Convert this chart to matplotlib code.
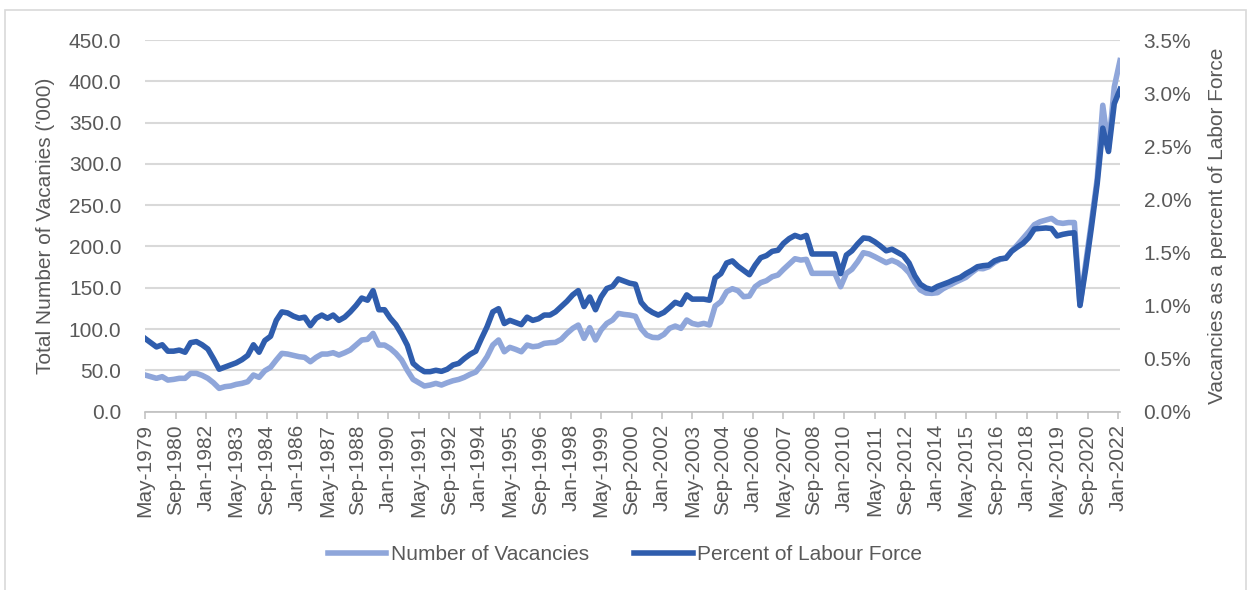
import matplotlib
matplotlib.use("Agg")
import matplotlib.pyplot as plt
from matplotlib.patches import Rectangle
from matplotlib.ticker import FuncFormatter
import pandas as pd

# quarterly observations, May-1979 .. Feb-2022
vacancies = [
    44.4, 42.4, 40.4, 42.4, 38.3, 39.1, 40.4, 40.4, 46.4, 46.4,
    44.0, 40.4, 35.1, 28.2, 30.3, 31.1, 33.1, 34.3, 36.3, 44.4,
    41.6, 49.6, 53.7, 62.6, 70.6, 69.8, 68.2, 66.6, 65.8, 60.5,
    65.8, 69.8, 69.8, 71.4, 68.6, 71.4, 74.7, 80.7, 86.8, 87.6,
    94.8, 80.7, 80.7, 76.5, 70.6, 62.6, 50.0, 39.1, 35.1, 31.1,
    32.3, 34.3, 32.3, 35.1, 37.5, 39.1, 41.6, 45.2, 48.0, 56.5,
    66.6, 80.7, 86.8, 72.6, 77.9, 75.5, 72.6, 80.7, 78.7, 79.5,
    82.7, 83.5, 83.9, 87.6, 94.8, 100.9, 104.9, 88.8, 101.7, 86.8,
    98.9, 106.9, 111.0, 119.0, 117.8, 117.0, 115.5, 100.5, 92.8, 90.0,
    89.6, 93.6, 100.9, 103.7, 100.9, 111.0, 106.9, 105.3, 106.9, 104.9,
    127.9, 133.2, 145.3, 148.9, 146.5, 139.2, 140.0, 151.3, 156.2, 158.6,
    163.4, 165.5, 172.3, 178.8, 185.2, 183.6, 184.4, 167.5, 167.5, 167.5,
    167.5, 167.5, 151.3, 167.5, 172.4, 181.6, 192.5, 190.9, 187.7, 184.0,
    180.4, 183.3, 180.4, 175.5, 168.3, 156.2, 147.3, 143.7, 143.3, 144.1,
    148.9, 152.5, 156.2, 159.4, 162.6, 168.3, 173.5, 173.1, 175.5, 180.8,
    184.4, 186.4, 194.5, 201.8, 209.8, 217.9, 226.4, 230.0, 232.0, 234.0,
    229.0, 228.0, 229.0, 229.0, 129.0, 180.0, 230.0, 282.0, 371.0, 319.0,
    393.0, 425.0,
]

pct_labour = [
    0.69, 0.65, 0.61, 0.63, 0.57, 0.57, 0.58, 0.56, 0.65, 0.66,
    0.63, 0.59, 0.50, 0.40, 0.42, 0.44, 0.46, 0.49, 0.53, 0.63,
    0.56, 0.67, 0.71, 0.86, 0.94, 0.93, 0.90, 0.88, 0.89, 0.81,
    0.88, 0.91, 0.88, 0.91, 0.86, 0.89, 0.94, 1.00, 1.07, 1.05,
    1.14, 0.96, 0.96, 0.88, 0.82, 0.73, 0.625, 0.455, 0.41, 0.377,
    0.377, 0.39, 0.38, 0.40, 0.44, 0.455, 0.50, 0.54, 0.57, 0.69,
    0.80, 0.94, 0.97, 0.83, 0.86, 0.84, 0.82, 0.89, 0.86, 0.875,
    0.91, 0.91, 0.94, 0.99, 1.04, 1.10, 1.14, 0.99, 1.08, 0.96,
    1.08, 1.16, 1.18, 1.25, 1.23, 1.21, 1.20, 1.03, 0.97, 0.935,
    0.91, 0.935, 0.98, 1.03, 1.01, 1.10, 1.06, 1.06, 1.06, 1.05,
    1.26, 1.30, 1.40, 1.42, 1.37, 1.33, 1.29, 1.38, 1.45, 1.47,
    1.51, 1.52, 1.585, 1.63, 1.66, 1.64, 1.66, 1.485, 1.485, 1.485,
    1.485, 1.485, 1.30, 1.475, 1.515, 1.58, 1.636, 1.63, 1.60, 1.56,
    1.515, 1.53, 1.50, 1.47, 1.40, 1.28, 1.20, 1.165, 1.15, 1.18,
    1.20, 1.22, 1.245, 1.265, 1.30, 1.33, 1.365, 1.375, 1.38, 1.42,
    1.44, 1.445, 1.51, 1.55, 1.585, 1.64, 1.72, 1.726, 1.73, 1.725,
    1.655, 1.67, 1.68, 1.685, 1.00, 1.35, 1.74, 2.15, 2.67, 2.45,
    2.90, 3.035,
]

dates = pd.date_range("1979-05-01", periods=len(vacancies), freq="3MS")
tick_dates = pd.date_range("1979-05-01", "2022-01-01", freq="16MS")

LIGHT = "#8FA6DA"
DARK = "#2F5DAD"
TEXT = "#595959"
GRID = "#D9D9D9"

plt.rcParams["font.family"] = ["Liberation Sans", "DejaVu Sans"]
plt.rcParams["font.size"] = 15

fig = plt.figure(figsize=(12.5, 5.9), dpi=100)
fig.patch.set_facecolor("white")
# faint frame around the chart area
fig.patches.append(Rectangle((5 / 1250, -0.02), 1241 / 1250, 1 - 10 / 590 + 0.02,
                             transform=fig.transFigure, fill=False,
                             edgecolor="#D9D9D9", linewidth=1.2))

ax = fig.add_axes([145 / 1250, 1 - 411.7 / 590, 975 / 1250, 371.7 / 590])
ax2 = ax.twinx()

l1, = ax.plot(dates, vacancies, color=LIGHT, linewidth=4.0,
              solid_joinstyle="round", label="Number of Vacancies")
l2, = ax2.plot(dates, pct_labour, color=DARK, linewidth=4.0,
               solid_joinstyle="round", label="Percent of Labour Force")

ax.set_ylim(0, 450)
ax.set_yticks(range(0, 451, 50))
ax.yaxis.set_major_formatter(FuncFormatter(lambda v, p: f"{v:.1f}"))
ax2.set_ylim(0, 3.5)
ax2.set_yticks([i * 0.5 for i in range(8)])
ax2.yaxis.set_major_formatter(FuncFormatter(lambda v, p: f"{v:.1f}%"))

ax.set_xlim(dates[0], dates[-1])
ax.set_xticks(tick_dates)
ax.set_xticklabels([d.strftime("%b-%Y") for d in tick_dates], rotation=90)

ax.grid(axis="y", color=GRID, linewidth=1.5)
ax.set_axisbelow(True)
for a in (ax, ax2):
    for s in ("top", "left", "right", "bottom"):
        a.spines[s].set_visible(False)
ax.spines["bottom"].set_visible(True)
ax.spines["bottom"].set_color("#BFBFBF")
ax.spines["bottom"].set_linewidth(1.2)

ax.tick_params(axis="x", colors=TEXT, length=5, width=1.1, color="#BFBFBF", pad=4)
ax.tick_params(axis="y", colors=TEXT, length=0, pad=17)
ax2.tick_params(axis="y", colors=TEXT, length=0, pad=17)

ax.set_ylabel("Total Number of Vacanies ('000)", color=TEXT, labelpad=10)
ax2.set_ylabel("Vacancies as a percent of Labor Force", color=TEXT, labelpad=12)

fig.legend([l1, l2], ["Number of Vacancies", "Percent of Labour Force"],
           loc="center", bbox_to_anchor=(0.5, 1 - 555 / 590), ncol=2,
           frameon=False, handlelength=2.8, handletextpad=0.2,
           columnspacing=2.2, labelcolor=TEXT)

fig.savefig("out.png", dpi=100, facecolor="white")
